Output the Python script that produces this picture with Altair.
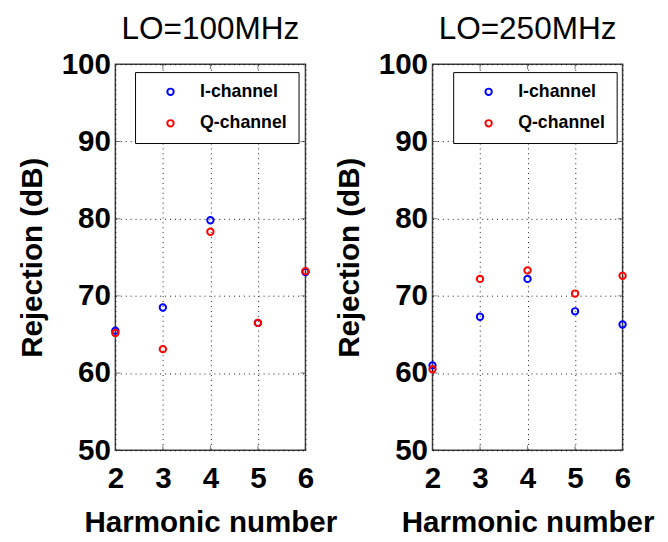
import altair as alt
import pandas as pd

harmonics = [2, 3, 4, 5, 6]
i_100 = [65.5, 68.5, 79.8, 66.5, 73.1]
q_100 = [65.2, 63.1, 78.3, 66.5, 73.2]
i_250 = [61.0, 67.3, 72.2, 68.0, 66.3]
q_250 = [60.5, 72.2, 73.3, 70.3, 72.6]
y_ticks = [50, 60, 70, 80, 90, 100]
series_names = ["I-channel", "Q-channel"]
series_colors = ["#0000ff", "#ff0000"]
titles = ["LO=100MHz", "LO=250MHz"]

FONT = "Liberation Sans"
FRAME = "#404040"


def panel(title, ivals, qvals, legend_x):
    df = pd.DataFrame({
        "h": harmonics + harmonics,
        "v": ivals + qvals,
        "s": [series_names[0]] * len(harmonics) + [series_names[1]] * len(harmonics),
    })
    xscale = alt.Scale(domain=[harmonics[0], harmonics[-1]], nice=False, zero=False)
    yscale = alt.Scale(domain=[y_ticks[0], y_ticks[-1]], nice=False, zero=False)
    xaxis = alt.Axis(values=harmonics, title="Harmonic number", format="d",
                     labelPadding=14, titlePadding=14, labelFlush=False)
    yaxis = alt.Axis(values=y_ticks, title="Rejection (dB)", format="d",
                     labelPadding=5, titlePadding=14, labelFlush=False)
    points = alt.Chart(df).mark_point(filled=False, size=42, strokeWidth=2, opacity=1).encode(
        x=alt.X("h:Q", scale=xscale, axis=xaxis),
        y=alt.Y("v:Q", scale=yscale, axis=yaxis),
        color=alt.Color("s:N", scale=alt.Scale(domain=series_names, range=series_colors),
                        legend=alt.Legend(title=None, orient="none", legendX=legend_x, legendY=8,
                                          fillColor="white", strokeColor="black",
                                          padding=11, symbolOffset=16, labelOffset=21,
                                          rowPadding=14, symbolType="circle", symbolSize=42,
                                          symbolStrokeWidth=2, labelFont=FONT, labelFontSize=18,
                                          labelFontWeight="bold", labelColor="black")),
    )
    # inward tick marks on the frame
    xt = pd.DataFrame({"h": harmonics + harmonics,
                       "v": [y_ticks[0]] * len(harmonics) + [y_ticks[-1]] * len(harmonics)})
    yt = pd.DataFrame({"h": [harmonics[0]] * len(y_ticks) + [harmonics[-1]] * len(y_ticks),
                       "v": y_ticks + y_ticks})
    xticks = alt.Chart(xt).mark_tick(orient="vertical", size=10, thickness=1, color=FRAME,
                                     clip=True).encode(
        x=alt.X("h:Q", scale=xscale, axis=xaxis), y=alt.Y("v:Q", scale=yscale, axis=yaxis))
    yticks = alt.Chart(yt).mark_tick(orient="horizontal", size=10, thickness=1, color=FRAME,
                                     clip=True).encode(
        x=alt.X("h:Q", scale=xscale, axis=xaxis), y=alt.Y("v:Q", scale=yscale, axis=yaxis))
    return alt.layer(xticks, yticks, points).properties(
        width=193, height=392,
        title=alt.TitleParams(title, font=FONT, fontSize=32, fontWeight="normal",
                              anchor="middle", color="black", offset=4),
    )


chart = alt.hconcat(
    panel(titles[0], i_100, q_100, 20),
    panel(titles[1], i_250, q_250, 21),
    spacing=129, bounds="flush",
).resolve_scale(color="independent").resolve_legend(color="independent").properties(
    padding={"left": 9, "top": 0, "right": 5, "bottom": 0}
).configure(
    background="white"
).configure_view(
    stroke=FRAME, strokeWidth=1.5
).configure_axis(
    grid=True, gridColor="black", gridDash=[1, 4], gridWidth=1, gridOpacity=0.9,
    ticks=False, domain=False,
    labelFont=FONT, labelFontSize=30, labelFontWeight="bold", labelColor="black",
    titleFont=FONT, titleFontSize=30, titleFontWeight="bold", titleColor="black",
)

chart.save("out.html", embed_options={"renderer": "svg", "actions": False})
